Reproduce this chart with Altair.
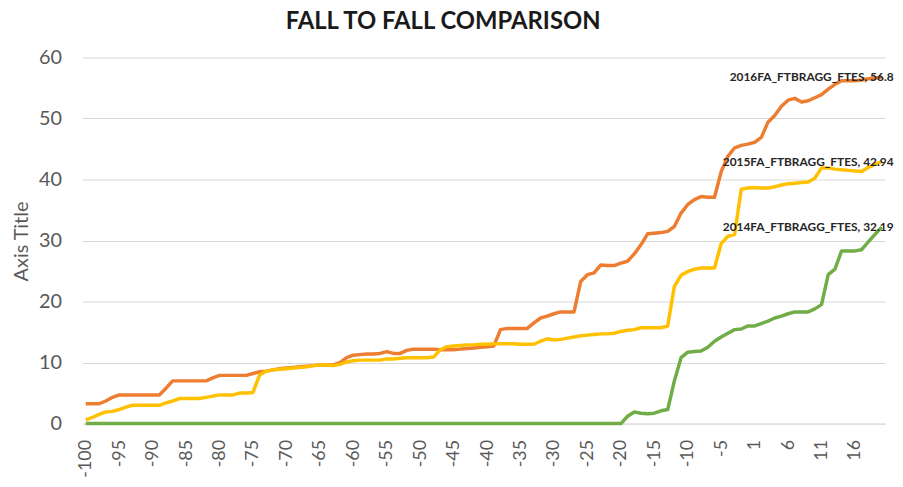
import altair as alt
import pandas as pd

# ---- data ----
categories = list(range(-100, 0)) + list(range(1, 21))

series_names = ["2016FA_FTBRAGG_FTES", "2015FA_FTBRAGG_FTES", "2014FA_FTBRAGG_FTES"]
series_colors = ["#ED7D31", "#FFC000", "#70AD47"]

fte_2016 = [
    3.25, 3.25, 3.25, 3.7, 4.3, 4.7, 4.7, 4.7, 4.7, 4.7,
    4.7, 4.7, 5.8, 7.0, 7.0, 7.0, 7.0, 7.0, 7.0, 7.5,
    7.9, 7.9, 7.9, 7.9, 7.9, 8.2, 8.5, 8.6, 8.8, 9.0,
    9.1, 9.2, 9.3, 9.4, 9.5, 9.6, 9.6, 9.6, 10.0, 10.8,
    11.2, 11.3, 11.4, 11.4, 11.5, 11.8, 11.5, 11.5, 12.0, 12.2,
    12.2, 12.2, 12.2, 12.1, 12.1, 12.1, 12.2, 12.3, 12.4, 12.5,
    12.6, 12.7, 15.4, 15.6, 15.6, 15.6, 15.6, 16.5, 17.3, 17.6,
    18.0, 18.3, 18.3, 18.3, 23.3, 24.4, 24.7, 26.0, 25.9, 25.9,
    26.3, 26.6, 27.8, 29.3, 31.1, 31.2, 31.3, 31.5, 32.3, 34.5,
    35.9, 36.7, 37.2, 37.1, 37.1, 41.3, 43.8, 45.2, 45.6, 45.8,
    46.1, 46.9, 49.4, 50.5, 52.0, 53.0, 53.3, 52.7, 52.9, 53.4,
    53.9, 54.8, 55.6, 56.2, 56.2, 56.2, 56.3, 56.5, 56.6, 56.8,
]

fte_2015 = [
    0.6, 1.0, 1.5, 1.9, 2.0, 2.3, 2.7, 3.0, 3.0, 3.0,
    3.0, 3.0, 3.4, 3.7, 4.1, 4.1, 4.1, 4.1, 4.3, 4.5,
    4.7, 4.7, 4.7, 5.0, 5.0, 5.1, 8.0, 8.6, 8.8, 8.9,
    9.0, 9.1, 9.2, 9.3, 9.5, 9.6, 9.6, 9.5, 9.7, 10.1,
    10.3, 10.4, 10.4, 10.4, 10.4, 10.6, 10.6, 10.7, 10.8, 10.8,
    10.8, 10.8, 10.9, 12.1, 12.6, 12.7, 12.8, 12.9, 12.9, 13.0,
    13.0, 13.1, 13.1, 13.1, 13.1, 13.0, 13.0, 13.0, 13.5, 13.9,
    13.7, 13.8, 14.0, 14.2, 14.4, 14.5, 14.6, 14.7, 14.7, 14.8,
    15.1, 15.3, 15.4, 15.7, 15.7, 15.7, 15.7, 16.0, 22.5, 24.3,
    24.9, 25.3, 25.5, 25.5, 25.5, 29.5, 30.7, 31.0, 38.4, 38.6,
    38.7, 38.6, 38.6, 38.8, 39.1, 39.3, 39.4, 39.5, 39.6, 40.2,
    41.9, 41.9, 41.7, 41.6, 41.5, 41.4, 41.3, 42.0, 42.5, 42.94,
]

fte_2014 = [
    0, 0, 0, 0, 0, 0, 0, 0, 0, 0,
    0, 0, 0, 0, 0, 0, 0, 0, 0, 0,
    0, 0, 0, 0, 0, 0, 0, 0, 0, 0,
    0, 0, 0, 0, 0, 0, 0, 0, 0, 0,
    0, 0, 0, 0, 0, 0, 0, 0, 0, 0,
    0, 0, 0, 0, 0, 0, 0, 0, 0, 0,
    0, 0, 0, 0, 0, 0, 0, 0, 0, 0,
    0, 0, 0, 0, 0, 0, 0, 0, 0, 0,
    0, 1.2, 1.9, 1.7, 1.6, 1.7, 2.1, 2.3, 7.0, 10.8,
    11.7, 11.8, 11.9, 12.5, 13.5, 14.2, 14.8, 15.4, 15.5, 16.0,
    16.0, 16.4, 16.8, 17.3, 17.6, 18.0, 18.3, 18.3, 18.3, 18.8,
    19.5, 24.4, 25.3, 28.3, 28.3, 28.3, 28.5, 29.8, 31.0, 32.19,
]

y_ticks = [0, 10, 20, 30, 40, 50, 60]
x_tick_labels = [-100, -95, -90, -85, -80, -75, -70, -65, -60, -55, -50,
                 -45, -40, -35, -30, -25, -20, -15, -10, -5, 1, 6, 11, 16]

# ---- tables ----
all_series = [fte_2016, fte_2015, fte_2014]
rows = []
for name, vals in zip(series_names, all_series):
    for c, v in zip(categories, vals):
        rows.append({"week": c, "fte": v, "series": name})
df = pd.DataFrame(rows)

labels_df = pd.DataFrame({
    "week": [categories[-1]] * len(series_names),
    "fte": [vals[-1] for vals in all_series],
    "series": series_names,
    "label": [f"{n}, {vals[-1]:g}" for n, vals in zip(series_names, all_series)],
})

FONT = "Lato"
AXIS_COLOR = "#595959"

x_enc = alt.X(
    "week:O",
    sort=categories,
    scale=alt.Scale(type="point", padding=0.5),
    axis=alt.Axis(
        values=x_tick_labels,
        labelAngle=-90,
        labelFont=FONT,
        labelFontSize=18,
        labelColor=AXIS_COLOR,
        labelPadding=16,
        ticks=False,
        tickSize=0,
        domain=True,
        domainColor="#d9d9d9",
        domainWidth=1,
        grid=False,
        title=None,
    ),
)

y_enc = alt.Y(
    "fte:Q",
    scale=alt.Scale(domain=[0, 60], nice=False, zero=True),
    axis=alt.Axis(
        values=y_ticks,
        labelFont=FONT,
        labelFontSize=20,
        labelColor=AXIS_COLOR,
        labelPadding=21,
        ticks=False,
        tickSize=0,
        domain=False,
        grid=True,
        gridColor="#d9d9d9",
        gridWidth=1,
        title="Axis Title",
        titleFont=FONT,
        titleFontSize=20,
        titleFontWeight="normal",
        titleColor=AXIS_COLOR,
        titleX=-61,
        titleY=185,
        titleAngle=270,
        titleAlign="center",
        titleBaseline="middle",
    ),
)

layers = []
for name, color in zip(series_names, series_colors):
    layers.append(
        alt.Chart(df)
        .transform_filter(alt.datum.series == name)
        .mark_line(color=color, strokeWidth=3.5, strokeJoin="round")
        .encode(x=x_enc, y=y_enc)
    )

text_layer = (
    alt.Chart(labels_df)
    .mark_text(
        align="right",
        baseline="middle",
        dx=12,
        font=FONT,
        fontSize=12,
        fontWeight="bold",
        color="#262626",
    )
    .encode(x=x_enc, y=y_enc, text="label:N")
)

chart = (
    alt.layer(*layers, text_layer)
    .properties(
        width=809,
        height=369,
        autosize=alt.AutoSizeParams(type="none"),
        padding={"left": 75, "top": 48, "right": 10, "bottom": 55},
        background="white",
        title=alt.TitleParams(
            "FALL TO FALL COMPARISON",
            font=FONT,
            fontSize=24,
            fontWeight="bold",
            color="#1a1a1a",
            anchor="middle",
            frame="group",
            baseline="alphabetic",
            offset=2,
            dx=-41,
            dy=7,
        ),
    )
    .configure_view(stroke=None)
)

chart.save("out.html", embed_options={"renderer": "svg", "actions": False})
